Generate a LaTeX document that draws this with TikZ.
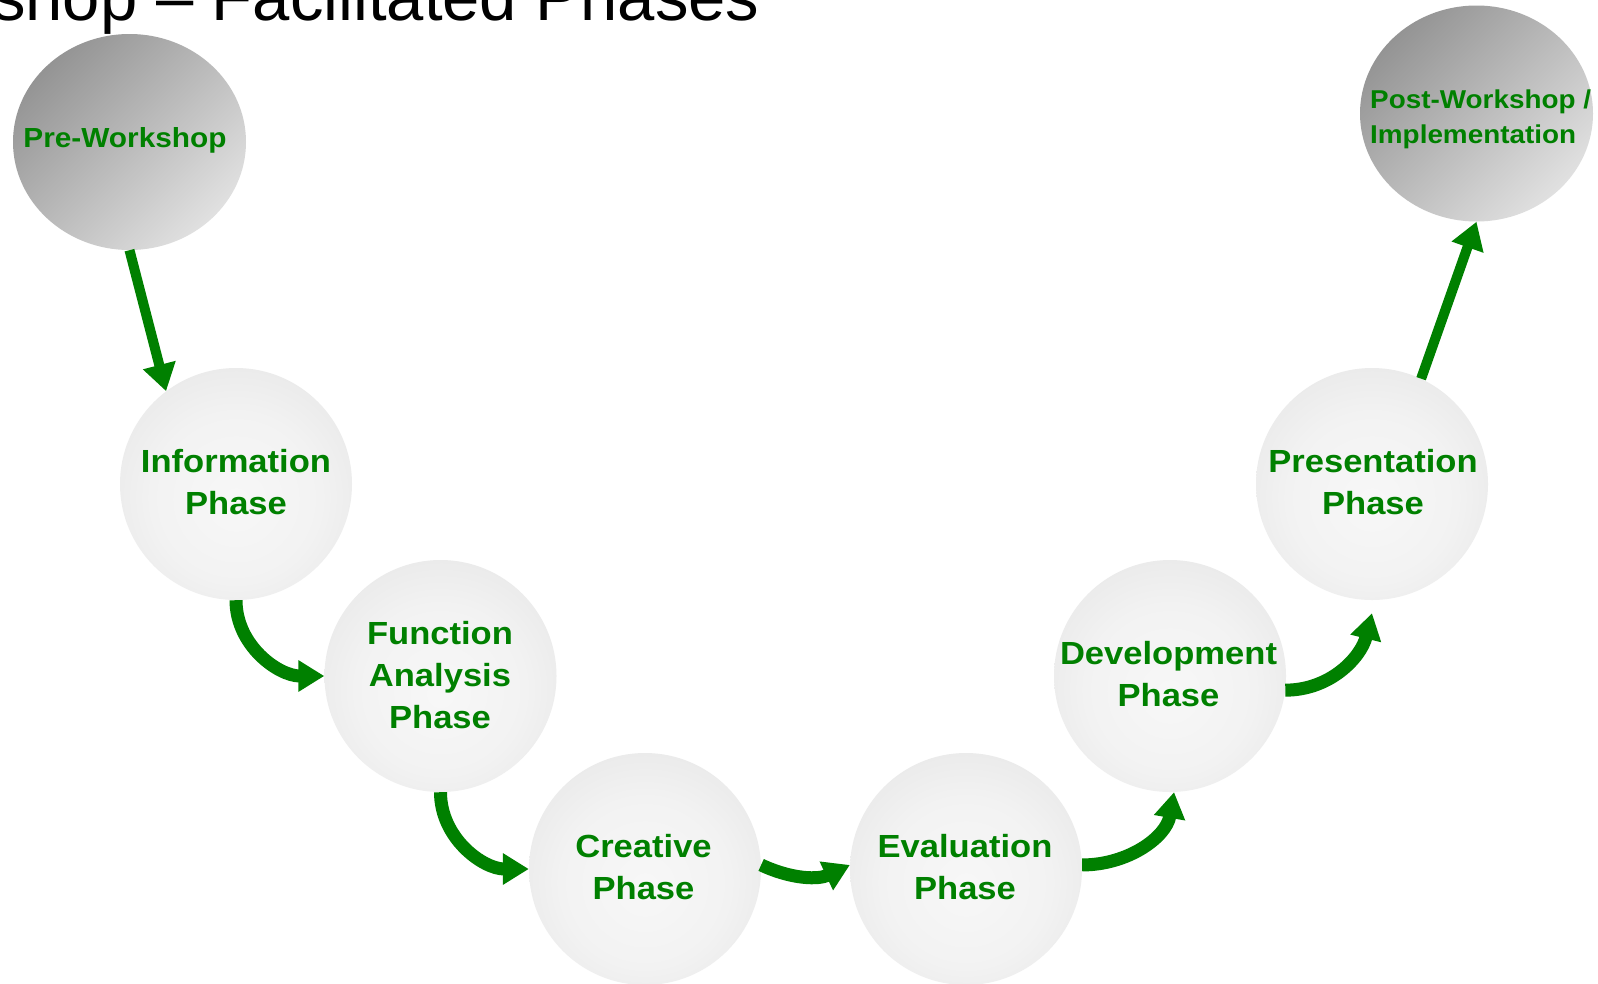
\documentclass[tikz,border=0pt]{standalone}
\usepackage{fontspec}
\setmainfont{Liberation Sans}
\newfontfamily\lblfont{Liberation Sans}[FakeStretch=1.08]
\usetikzlibrary{arrows.meta,shapes.geometric}
\definecolor{vgreen}{RGB}{0,128,0}
\pgfdeclareradialshading{phaseball}{\pgfpoint{0bp}{-4bp}}{color(0bp)=(black!3); color(18bp)=(black!5); color(38bp)=(black!11); color(50bp)=(black!17); color(70bp)=(black!17)}
\begin{document}
\begin{tikzpicture}[x=1pt,y=-1pt,
  phase/.style={circle, minimum size=232pt, inner sep=0pt, shade, shading=phaseball},
  endball/.style={ellipse, minimum width=233pt, minimum height=216pt, inner sep=0pt, top color=black!42, bottom color=black!12, shading angle=45},
  ptext/.style={text=vgreen, font=\lblfont\bfseries\fontsize{32}{42}\selectfont, align=center, inner sep=0pt},
  straightarrow/.style={draw=vgreen, line width=10pt, -{Triangle[width=32pt,length=27pt]}},
  curvearrow/.style={draw=vgreen, line width=13pt, -{Triangle[width=30pt,length=26pt]}}
]
\useasboundingbox (0,0) rectangle (1598,983);
\fill[white] (0,0) rectangle (1598,983);
\clip (0,0) rectangle (1598,983);

\node[anchor=base west, inner sep=0pt, font=\fontsize{67}{72}\selectfont] (title) at (-8,20) {shop – Facilitated Phases};

\node[endball] (pre) at (129.5,142) {};
\node[endball] (post) at (1476.5,113.5) {};
\node[phase] (info) at (236,484) {};
\node[phase] (func) at (440.5,676) {};
\node[phase] (crea) at (645,869) {};
\node[phase] (eval) at (966,869) {};
\node[phase] (dev) at (1170,676) {};
\node[phase] (pres) at (1372,484) {};

\node[ptext] (infot) at (236,482) {Information\\Phase};
\node[ptext] (funct) at (440,675.5) {Function\\Analysis\\Phase};
\node[ptext] (creat) at (643.5,867) {Creative\\Phase};
\node[ptext] (evalt) at (965,867) {Evaluation\\Phase};
\node[ptext] (devt) at (1168.5,674) {Development\\Phase};
\node[ptext] (prest) at (1373,482) {Presentation\\Phase};
\node[text=vgreen, font=\lblfont\bfseries\fontsize{27.6}{33}\selectfont, anchor=base, inner sep=0pt] (pret) at (125,147) {Pre-Workshop};
\node[text=vgreen, font=\lblfont\bfseries\fontsize{25.8}{35}\selectfont, align=left, anchor=north west, inner sep=0pt] (postt) at (1370,89.5) {Post-Workshop /\\Implementation};

\draw[straightarrow] (pre.south) -- (info.127);
\draw[curvearrow] (info.south) to[out=-90,in=180] (func.west);
\draw[curvearrow] (func.south) to[out=-90,in=180] (crea.west);
\draw[curvearrow] (crea.2) to[out=-25,in=205] (eval.178);
\draw[curvearrow] (eval.2) to[out=0,in=-100] (dev.-88);
\draw[curvearrow] (dev.-7) to[out=0,in=-104] ([yshift=-13pt]pres.south);
\draw[straightarrow] (pres.65) -- (post.south);
\end{tikzpicture}
\end{document}
